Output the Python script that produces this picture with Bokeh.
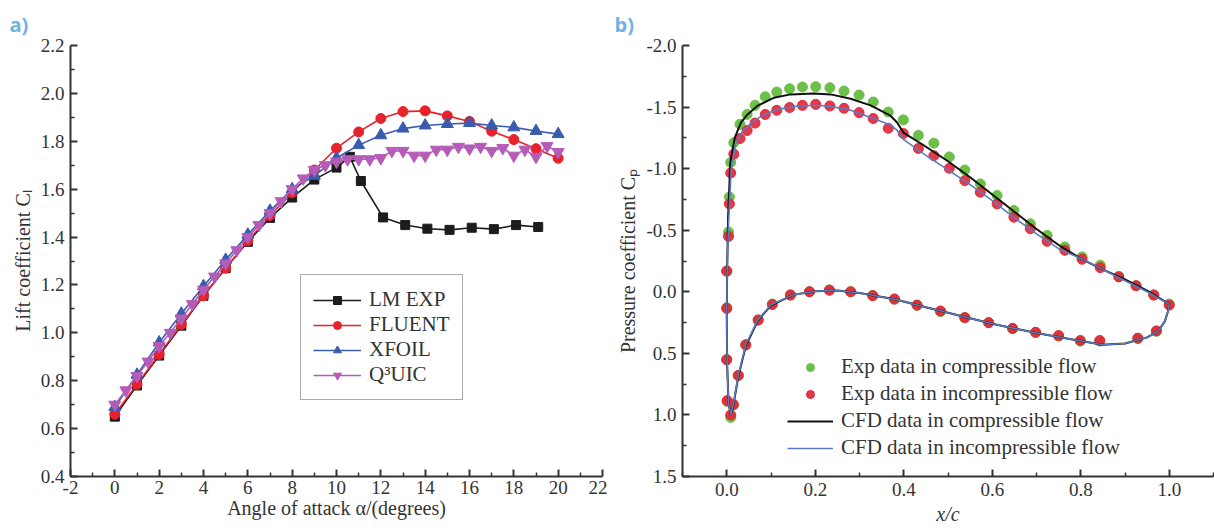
from bokeh.plotting import figure
from bokeh.layouts import row
from bokeh.models import Range1d, FixedTicker, NumeralTickFormatter
from bokeh.embed import file_html
from bokeh.resources import INLINE

SERIF = "Liberation Serif"
INK = "#333333"

# ---------------- data: panel a) lift coefficient ----------------
lm_alpha = [0, 1, 2, 3, 4, 5, 6, 7, 8, 9, 10, 10.6, 11.1, 12.1, 13.1, 14.1, 15.1, 16.1, 17.1, 18.1, 19.1]
lm_cl = [0.65, 0.78, 0.905, 1.03, 1.155, 1.27, 1.38, 1.48, 1.565, 1.64, 1.69, 1.735, 1.634, 1.482,
         1.45, 1.435, 1.43, 1.439, 1.433, 1.45, 1.442]

fluent_alpha = [0, 1, 2, 3, 4, 5, 6, 7, 8, 9, 10, 11, 12, 13, 14, 15, 16, 17, 18, 19, 20]
fluent_cl = [0.66, 0.785, 0.91, 1.035, 1.155, 1.27, 1.385, 1.49, 1.585, 1.68, 1.771, 1.839, 1.895,
             1.924, 1.927, 1.906, 1.883, 1.842, 1.807, 1.769, 1.729]

xfoil_alpha = [0, 1, 2, 3, 4, 5, 6, 7, 8, 9, 10, 11, 12, 13, 14, 15, 16, 17, 18, 19, 20]
xfoil_cl = [0.69, 0.825, 0.96, 1.08, 1.195, 1.305, 1.41, 1.51, 1.6, 1.656, 1.73, 1.784, 1.825,
            1.853, 1.866, 1.872, 1.876, 1.866, 1.858, 1.843, 1.83]

q3_alpha = [0, 0.5, 1, 1.5, 2, 2.5, 3, 3.5, 4, 4.5, 5, 5.5, 6, 6.5, 7, 7.5, 8, 8.5, 9, 9.5, 10,
            10.5, 11, 11.5, 12, 12.5, 13, 13.5, 14, 14.5, 15, 15.5, 16, 16.5, 17, 17.5, 18, 18.5,
            19, 19.5, 20]
q3_cl = [0.70, 0.76, 0.82, 0.88, 0.945, 1.0, 1.06, 1.12, 1.18, 1.235, 1.29, 1.345, 1.40, 1.45,
         1.50, 1.55, 1.60, 1.645, 1.68, 1.70, 1.715, 1.725, 1.725, 1.725, 1.73, 1.76, 1.76, 1.74,
         1.74, 1.765, 1.765, 1.777, 1.77, 1.777, 1.76, 1.772, 1.74, 1.765, 1.735, 1.78, 1.755]

# ---------------- data: panel b) pressure coefficient ----------------
exp_xc = [1.0, 0.965, 0.925, 0.886, 0.844, 0.803, 0.764, 0.724, 0.686, 0.649, 0.611, 0.573, 0.538,
          0.503, 0.468, 0.433, 0.399, 0.365, 0.331, 0.299, 0.265, 0.233, 0.201, 0.171, 0.142, 0.113,
          0.087, 0.064, 0.046, 0.030, 0.016, 0.009, 0.006, 0.004,
          0.0, 0.0, 0.0, 0.001, 0.009, 0.015, 0.026, 0.043, 0.071, 0.103, 0.144, 0.187, 0.232, 0.280,
          0.330, 0.379, 0.430, 0.483, 0.538, 0.592, 0.646, 0.698, 0.750, 0.799, 0.843, 0.929, 0.971]
exp_cp_comp = [0.1, 0.025, -0.05, -0.125, -0.216, -0.283, -0.364, -0.458, -0.552, -0.66, -0.782,
               -0.876, -0.989, -1.095, -1.207, -1.27, -1.396, -1.46, -1.541, -1.598, -1.63, -1.657,
               -1.665, -1.663, -1.649, -1.622, -1.584, -1.514, -1.44, -1.36, -1.21, -1.05, -0.77,
               -0.485,
               -0.17, 0.13, 0.55, 0.89, 1.02, 0.92, 0.68, 0.43, 0.23, 0.1, 0.025, 0.0, -0.015, 0.0,
               0.03, 0.06, 0.11, 0.16, 0.21, 0.25, 0.3, 0.33, 0.36, 0.4, 0.4, 0.38, 0.32]
exp_cp_incomp = [0.108, 0.027, -0.049, -0.121, -0.196, -0.264, -0.337, -0.41, -0.512, -0.606, -0.714,
                 -0.808, -0.903, -1.003, -1.105, -1.164, -1.285, -1.328, -1.407, -1.455, -1.49,
                 -1.509, -1.522, -1.514, -1.496, -1.474, -1.44, -1.37, -1.31, -1.245, -1.118,
                 -0.965, -0.714, -0.45,
                 -0.167, 0.135, 0.552, 0.884, 1.0, 0.916, 0.679, 0.431, 0.229, 0.103, 0.027, 0.0,
                 -0.013, 0.0, 0.032, 0.059, 0.108, 0.156, 0.21, 0.251, 0.297, 0.329, 0.356, 0.396,
                 0.396, 0.377, 0.318]

cfd_comp_xc = [1.0, 0.95, 0.9, 0.85, 0.8, 0.75, 0.7, 0.65, 0.6, 0.55, 0.5, 0.445, 0.4, 0.385, 0.37,
               0.325, 0.28, 0.235, 0.197, 0.144, 0.107, 0.069, 0.047, 0.032, 0.018, 0.008, 0.003,
               0.001, 0.0, 0.001, 0.004, 0.009, 0.015, 0.026, 0.043, 0.07, 0.1, 0.15, 0.2, 0.25,
               0.3, 0.38, 0.45, 0.5, 0.6, 0.7, 0.8, 0.85, 0.9, 0.95, 0.975, 0.99, 0.997, 1.0]
cfd_comp_cp = [0.1, -0.01, -0.1, -0.18, -0.27, -0.38, -0.51, -0.65, -0.79, -0.93, -1.06, -1.19,
               -1.29, -1.375, -1.43, -1.514, -1.568, -1.603, -1.611, -1.603, -1.576, -1.509, -1.44,
               -1.374, -1.25, -1.05, -0.6, -0.2, 0.2, 0.6, 0.9, 1.0, 0.92, 0.69, 0.44, 0.235, 0.11,
               0.025, -0.005, -0.01, 0.01, 0.06, 0.125, 0.17, 0.26, 0.335, 0.4, 0.43, 0.42, 0.37,
               0.32, 0.24, 0.16, 0.1]

cfd_incomp_xc = [1.0, 0.95, 0.9, 0.85, 0.8, 0.75, 0.7, 0.65, 0.6, 0.55, 0.5, 0.445, 0.4, 0.385,
                 0.37, 0.33, 0.28, 0.235, 0.2, 0.15, 0.11, 0.08, 0.055, 0.035, 0.02, 0.01, 0.004,
                 0.001, 0.0, 0.001, 0.004, 0.009, 0.015, 0.026, 0.043, 0.07, 0.1, 0.15, 0.2, 0.25,
                 0.3, 0.38, 0.45, 0.5, 0.6, 0.7, 0.8, 0.85, 0.9, 0.95, 0.975, 0.99, 0.997, 1.0]
cfd_incomp_cp = [0.1, 0.0, -0.09, -0.18, -0.27, -0.35, -0.47, -0.6, -0.74, -0.87, -0.99, -1.12,
                 -1.235, -1.31, -1.355, -1.41, -1.475, -1.505, -1.515, -1.505, -1.475, -1.43, -1.37,
                 -1.3, -1.2, -1.0, -0.55, -0.2, 0.2, 0.6, 0.9, 1.0, 0.91, 0.68, 0.43, 0.23, 0.105,
                 0.025, -0.005, -0.01, 0.01, 0.06, 0.125, 0.17, 0.26, 0.335, 0.4, 0.43, 0.42, 0.37,
                 0.32, 0.24, 0.16, 0.1]

# tick positions
a_xticks = [-2, 0, 2, 4, 6, 8, 10, 12, 14, 16, 18, 20, 22]
a_xminor = [-1, 1, 3, 5, 7, 9, 11, 13, 15, 17, 19, 21]
a_yticks = [0.4, 0.6, 0.8, 1.0, 1.2, 1.4, 1.6, 1.8, 2.0, 2.2]
a_yminor = [0.5, 0.7, 0.9, 1.1, 1.3, 1.5, 1.7, 1.9, 2.1]
b_xticks = [0.0, 0.2, 0.4, 0.6, 0.8, 1.0]
b_xminor = [-0.1, 0.1, 0.3, 0.5, 0.7, 0.9, 1.1]
b_yticks = [-2.0, -1.5, -1.0, -0.5, 0.0, 0.5, 1.0, 1.5]
b_yminor = [-1.75, -1.25, -0.75, -0.25, 0.25, 0.75, 1.25]


def style_axes(p):
    p.outline_line_color = None
    p.grid.visible = False
    p.background_fill_color = "white"
    p.border_fill_color = "white"
    for ax in p.axis:
        ax.axis_line_color = INK
        ax.axis_line_width = 2
        ax.major_tick_in = 7
        ax.major_tick_out = 0
        ax.minor_tick_in = 4
        ax.minor_tick_out = 0
        ax.major_tick_line_color = INK
        ax.major_tick_line_width = 2
        ax.minor_tick_line_color = INK
        ax.minor_tick_line_width = 1.5
        ax.major_label_text_font = SERIF
        ax.major_label_text_font_size = "19px"
        ax.major_label_text_color = INK
        ax.major_label_standoff = 6
        ax.axis_label_text_font = SERIF
        ax.axis_label_text_font_size = "20px"
        ax.axis_label_text_font_style = "normal"
        ax.axis_label_text_color = INK
        ax.axis_label_standoff = 4


def panel_tag(p, text, offset):
    p.title.text = text
    p.title.align = "left"
    p.title.offset = offset
    p.title.standoff = 16
    p.title.text_font = "Open Sans"
    p.title.text_font_style = "bold"
    p.title.text_font_size = "20px"
    p.title.text_color = "#6fb2e3"


# ---------------- panel a ----------------
p1 = figure(width=607, height=528, x_range=Range1d(-2, 22), y_range=Range1d(0.4, 2.2),
            output_backend="svg", toolbar_location=None,
            min_border_left=70, min_border_right=5, min_border_top=43, min_border_bottom=48)
style_axes(p1)
p1.xaxis.ticker = FixedTicker(ticks=a_xticks, minor_ticks=a_xminor)
p1.yaxis.ticker = FixedTicker(ticks=a_yticks, minor_ticks=a_yminor)
p1.xaxis.formatter = NumeralTickFormatter(format="0")
p1.yaxis.formatter = NumeralTickFormatter(format="0.0")
p1.xaxis.axis_label = "Angle of attack \u03b1/(degrees)"
p1.yaxis.axis_label = "Lift coefficient C\u2097"
p1.xaxis.major_label_standoff = 4
p1.xaxis.axis_label_standoff = 0
panel_tag(p1, "a)", -61)

series_a = [
    ("LM EXP", lm_alpha, lm_cl, "#1c1c1c", "square", 9),
    ("FLUENT", fluent_alpha, fluent_cl, "#e8222b", "circle", 10),
    ("XFOIL", xfoil_alpha, xfoil_cl, "#3a5cae", "triangle", 12),
    ("Q\u00b3UIC", q3_alpha, q3_cl, "#b55cb8", "inverted_triangle", 12),
]
for name, xs, ys, col, mk, sz in series_a:
    p1.line(xs, ys, line_color=col, line_width=1.6, legend_label=name)
    p1.scatter(xs, ys, marker=mk, size=sz, fill_color=col, line_color=col, legend_label=name)

lg1 = p1.legend[0]
lg1.location = (230, 76)
lg1.border_line_color = "#555555"
lg1.border_line_width = 1.5
lg1.background_fill_color = "white"
lg1.background_fill_alpha = 1.0
lg1.label_text_font = SERIF
lg1.label_text_font_size = "21px"
lg1.label_text_color = INK
lg1.glyph_width = 48
lg1.glyph_height = 20
lg1.label_height = 20
lg1.label_standoff = 8
lg1.spacing = 0
lg1.padding = 12
lg1.margin = 0

# ---------------- panel b ----------------
p2 = figure(width=607, height=528, x_range=Range1d(-0.1, 1.1), y_range=Range1d(1.5, -2.0),
            output_backend="svg", toolbar_location=None,
            min_border_left=75, min_border_right=1, min_border_top=43, min_border_bottom=52)
style_axes(p2)
p2.xaxis.ticker = FixedTicker(ticks=b_xticks, minor_ticks=b_xminor)
p2.yaxis.ticker = FixedTicker(ticks=b_yticks, minor_ticks=b_yminor)
p2.xaxis.formatter = NumeralTickFormatter(format="0.0")
p2.yaxis.formatter = NumeralTickFormatter(format="0.0")
p2.xaxis.axis_label = "x/c"
p2.xaxis.axis_label_text_font_style = "italic"
p2.yaxis.axis_label = "Pressure coefficient C\u209a"
panel_tag(p2, "b)", -68)

p2.scatter(exp_xc, exp_cp_comp, marker="circle", size=10, fill_color="#6cbf48",
           line_color="#6cbf48", legend_label="Exp data in compressible flow")
p2.scatter(exp_xc, exp_cp_incomp, marker="circle", size=10, fill_color="#e3283a",
           line_color="#e3283a", fill_alpha=0.92, legend_label="Exp data in incompressible flow")
p2.line(cfd_comp_xc, cfd_comp_cp, line_color="#111111", line_width=2,
        legend_label="CFD data in compressible flow")
p2.line(cfd_incomp_xc, cfd_incomp_cp, line_color="#5b7cc0", line_width=1.6,
        legend_label="CFD data in incompressible flow")

lg2 = p2.legend[0]
lg2.location = (105, 16)
lg2.border_line_color = None
lg2.background_fill_alpha = 0.0
lg2.label_text_font = SERIF
lg2.label_text_font_size = "21px"
lg2.label_text_color = INK
lg2.glyph_width = 46
lg2.glyph_height = 20
lg2.label_height = 20
lg2.label_standoff = 8
lg2.spacing = 2
lg2.padding = 0
lg2.margin = 0

layout = row(p1, p2)
open("out.html", "w").write(file_html(layout, INLINE))
